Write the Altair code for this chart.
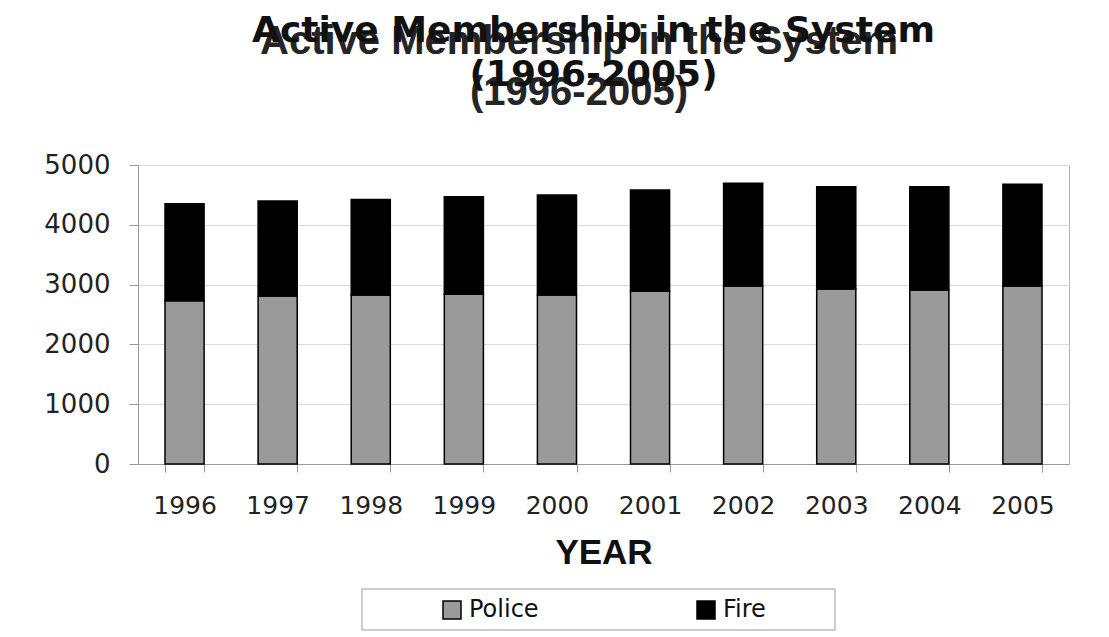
import altair as alt
import pandas as pd

years = ["1996", "1997", "1998", "1999", "2000", "2001", "2002", "2003", "2004", "2005"]
police = [2730, 2810, 2825, 2840, 2825, 2890, 2975, 2925, 2910, 2975]
fire = [1620, 1590, 1600, 1630, 1675, 1690, 1720, 1710, 1725, 1705]
series = ["Police", "Fire"]
series_colors = ["#9a9a9a", "#000000"]
y_ticks = [0, 1000, 2000, 3000, 4000, 5000]
title_lines = ["Active Membership in the System", "(1996-2005)"]
x_title = "YEAR"

rows = []
for i, yr in enumerate(years):
    rows.append({"year": yr, "series": "Police", "value": police[i], "rank": 0})
    rows.append({"year": yr, "series": "Fire", "value": fire[i], "rank": 1})
df = pd.DataFrame(rows)
one = pd.DataFrame({"k": [0]})

bars = alt.Chart(df).mark_bar(stroke="black", strokeWidth=1.5).encode(
    x=alt.X(
        "year:O",
        sort=years,
        scale=alt.Scale(paddingInner=0.58, paddingOuter=0.29),
        axis=alt.Axis(
            title=x_title, titleFont="Liberation Sans", titleFontSize=35,
            titleFontWeight="bold", titleColor="#111111", titlePadding=17,
            labelFont="DejaVu Sans", labelFontSize=25, labelColor="#222222",
            labelAngle=0, labelPadding=21, tickSize=8, tickColor="#999999",
            domainColor="#999999", tickBand="extent", grid=False,
        ),
    ),
    y=alt.Y(
        "value:Q", stack="zero",
        scale=alt.Scale(domain=[0, 5000], nice=False),
        axis=alt.Axis(
            title=None, values=y_ticks, format="d", labelFont="DejaVu Sans",
            labelFontSize=26, labelColor="#222222", labelPadding=19, tickSize=9,
            tickColor="#999999", domainColor="#999999", grid=True,
            gridColor="#dadada",
        ),
    ),
    color=alt.Color(
        "series:N",
        scale=alt.Scale(domain=series, range=series_colors),
        legend=alt.Legend(
            title=None, orient="none", legendX=302, legendY=433,
            direction="horizontal", symbolType="square", symbolSize=324,
            symbolStrokeColor="black", symbolStrokeWidth=1.5, symbolOpacity=1,
            labelFont="DejaVu Sans", labelFontSize=24, labelColor="#111111",
            labelOffset=5, columnPadding=155, padding=0,
        ),
    ),
    order=alt.Order("rank:Q"),
)

title_back = alt.Chart(one).mark_text(
    font="Liberation Sans", fontSize=40, fontWeight="bold", color="#252525",
    align="center", baseline="alphabetic", lineHeight=51,
).encode(x=alt.value(441), y=alt.value(-111), text=alt.value(title_lines))

title_front = alt.Chart(one).mark_text(
    font="DejaVu Sans", fontSize=36, fontWeight="bold", color="#111111",
    align="center", baseline="alphabetic", lineHeight=44,
).encode(x=alt.value(455.5), y=alt.value(-123), text=alt.value(title_lines))

legend_frame = alt.Chart(one).mark_rect(
    filled=False, stroke="#bdbdbd", strokeWidth=1.5
).encode(x=alt.value(224), x2=alt.value(697), y=alt.value(424), y2=alt.value(465))

chart = alt.layer(bars, legend_frame, title_back, title_front).properties(
    width=931, height=299,
    padding={"left": 138, "top": 165, "right": 40, "bottom": 173},
    autosize=alt.AutoSizeParams(type="none"),
    background="white",
).configure_view(stroke="#b5b5b5", strokeWidth=1)

chart.save("out.html", embed_options={"renderer": "svg", "actions": False})
